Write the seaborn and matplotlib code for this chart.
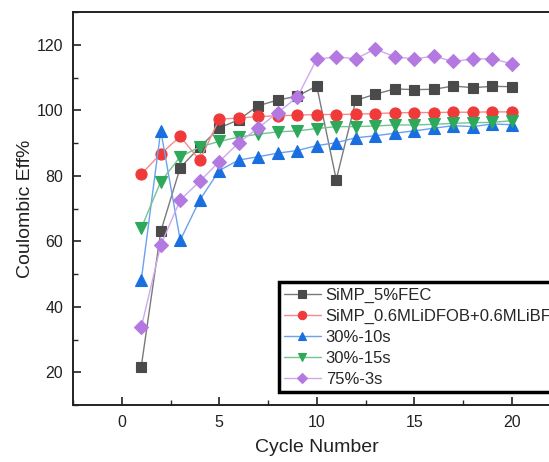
import numpy as np
import pandas as pd
import matplotlib
matplotlib.use("Agg")
import matplotlib.pyplot as plt
import seaborn as sns
from matplotlib.ticker import MultipleLocator

cycles = list(range(1, 21))

simp_5fec = [21.7, 63.0, 82.5, 88.7, 94.6, 97.1, 101.4, 103.1, 104.3, 107.4,
             78.8, 103.0, 104.9, 106.5, 106.3, 106.4, 107.4, 106.9, 107.3, 107.2]
simp_lidfob = [80.5, 86.7, 92.0, 84.7, 97.3, 97.6, 98.1, 98.3, 98.5, 98.7,
               98.7, 98.8, 99.0, 99.2, 99.3, 99.3, 99.4, 99.4, 99.5, 99.5]
p30_10s = [48.1, 93.8, 60.3, 72.6, 81.6, 84.8, 85.8, 86.9, 87.7, 89.2,
           90.1, 91.6, 92.2, 93.0, 93.7, 94.5, 95.3, 95.0, 95.8, 95.6]
p30_15s = [64.0, 78.2, 85.8, 88.8, 90.5, 91.8, 92.7, 93.4, 93.7, 94.4,
           95.0, 95.0, 95.2, 95.5, 95.5, 95.7, 96.0, 96.2, 96.3, 96.8]
p75_3s = [33.7, 58.8, 72.6, 78.3, 84.3, 90.1, 94.6, 99.3, 104.0, 115.6,
          116.3, 115.7, 118.7, 116.3, 115.7, 116.5, 114.9, 115.7, 115.7, 114.2]

labels = ["SiMP_5%FEC", "SiMP_0.6MLiDFOB+0.6MLiBF4", "30%-10s", "30%-15s", "75%-3s"]
series = [simp_5fec, simp_lidfob, p30_10s, p30_15s, p75_3s]
marker_colors = ["#4a4a4a", "#f03a3a", "#1a6fe0", "#2ea85a", "#b479e0"]
line_colors = ["#7a7a7a", "#f58a8a", "#6aa2ee", "#72c593", "#cfa8ee"]
markers = ["s", "o", "^", "v", "D"]
msizes = [7, 8, 8, 8, 7]

sns.set_style("ticks")
plt.rcParams["font.family"] = ["Liberation Sans", "DejaVu Sans"]

fig = plt.figure(figsize=(5.49, 4.62), dpi=100)
ax = fig.add_axes([73 / 549, 1 - 405 / 462, 487.5 / 549, (405 - 12) / 462])

for lab, vals, mc, lc, mk, ms in zip(labels, series, marker_colors, line_colors, markers, msizes):
    df = pd.DataFrame({"Cycle": cycles, "CE": vals})
    sns.lineplot(data=df, x="Cycle", y="CE", ax=ax, color=lc, linewidth=1.0,
                 marker=mk, markersize=ms, markerfacecolor=mc, markeredgecolor=mc,
                 markeredgewidth=0.8, label=lab)

ax.set_xlim(-2.5, 22.5)
ax.set_ylim(10, 130)
ax.xaxis.set_major_locator(MultipleLocator(5))
ax.xaxis.set_minor_locator(MultipleLocator(2.5))
ax.yaxis.set_major_locator(MultipleLocator(20))
ax.yaxis.set_minor_locator(MultipleLocator(10))
ax.tick_params(which="major", direction="in", length=6, width=1.2, labelsize=11.5,
               top=False, right=False, colors="#222222", pad=7)
ax.tick_params(which="minor", direction="in", length=3.5, width=1.0, top=False, right=False)
for sp in ax.spines.values():
    sp.set_linewidth(1.4)
    sp.set_color("#222222")

ax.set_xlabel("Cycle Number", fontsize=14, color="#222222", labelpad=7)
ax.set_ylabel("Coulombic Eff%", fontsize=14, color="#222222", labelpad=2)

leg = ax.legend(loc="upper left", bbox_to_anchor=((279 - 73) / 487.5, 0.312), fontsize=12,
                frameon=True, fancybox=False, edgecolor="black", framealpha=1,
                handlelength=2.2, handletextpad=0.3, borderpad=0.3,
                labelspacing=0.36, markerscale=0.75, borderaxespad=0)
leg.get_frame().set_linewidth(2.5)

fig.savefig("out.png", dpi=100)
